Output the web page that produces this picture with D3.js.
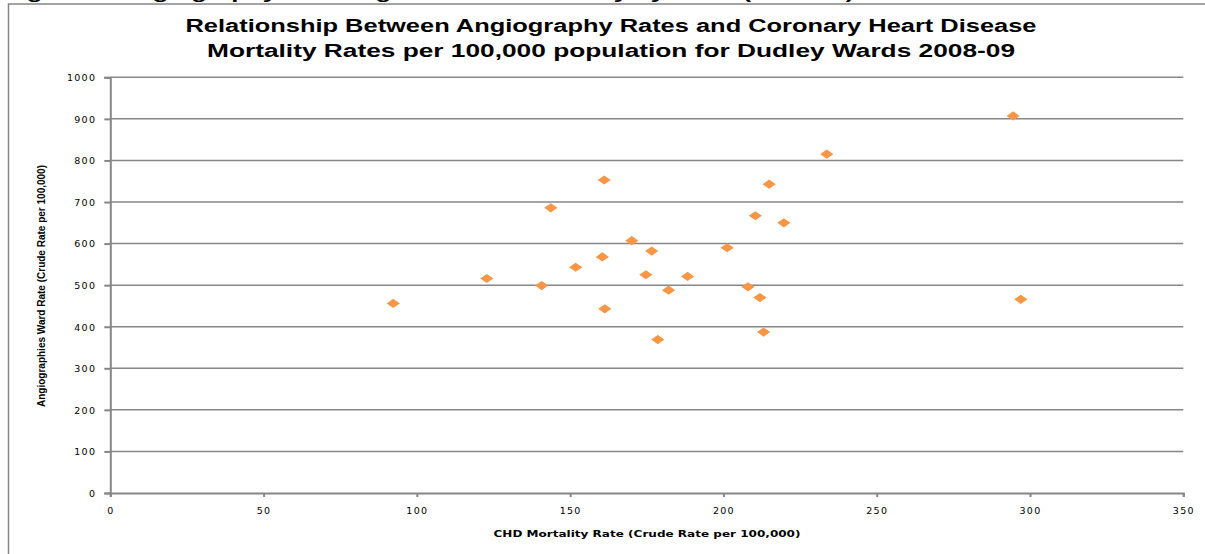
<!DOCTYPE html>
<html>
<head>
<meta charset="utf-8">
<script src="https://cdn.jsdelivr.net/npm/d3@7"></script>
<style>
  html, body { margin: 0; padding: 0; background: #fff; }
  svg { display: block; }
</style>
</head>
<body>
<svg id="chart" width="1205" height="554"></svg>
<script>
// ---- data ----
const chdMortality = [92.3, 122.8, 140.7, 143.7, 151.8, 160.5, 161.1, 161.3, 170.1, 176.6, 174.7, 182.1,
                      178.6, 188.3, 201.2, 208.0, 211.9, 213.1, 210.4, 214.9, 219.7, 233.7, 294.5, 297.0];
const angiographyRate = [456, 516, 499, 686, 543, 568, 753, 443, 607, 582, 525, 488,
                         369, 521, 590, 496, 470, 387, 667, 743, 650, 815, 907, 466];
const xTicks = [0, 50, 100, 150, 200, 250, 300, 350];
const yTicks = [0, 100, 200, 300, 400, 500, 600, 700, 800, 900, 1000];
const titleLines = ["Relationship Between Angiography Rates and Coronary Heart Disease",
                    "Mortality Rates per 100,000 population for Dudley Wards 2008-09"];
const xTitle = "CHD Mortality Rate (Crude Rate per 100,000)";
const yTitle = "Angiographies Ward Rate (Crude Rate per 100,000)";
const captionAbove = "Figure 4: Angiography Rates against CHD Mortality by Ward (2008-09)";

const svg = d3.select("#chart");
const grid = "#868686";

// caption cut off at top of page (as in the reference)
svg.append("text").attr("x", 4).attr("y", -1)
  .attr("font-family", "Liberation Sans, Arial, sans-serif").attr("font-weight", "bold")
  .attr("font-size", 17).attr("fill", "#000").text(captionAbove)
  .attr("textLength", 850).attr("lengthAdjust", "spacingAndGlyphs");

// chart frame
svg.append("rect").attr("x", 8.5).attr("y", 4).attr("width", 1210).attr("height", 560)
  .attr("fill", "#fff").attr("stroke", grid).attr("stroke-width", 1.5);

const x = d3.scaleLinear().domain([0, 350]).range([110.3, 1183.3]);
const y = d3.scaleLinear().domain([0, 1000]).range([493, 77.3]);

// gridlines
svg.append("g").selectAll("line").data(yTicks.filter(d => d > 0)).join("line")
  .attr("x1", x(0)).attr("x2", x(350))
  .attr("y1", d => y(d)).attr("y2", d => y(d))
  .attr("stroke", grid).attr("stroke-width", 1.5);

// y axis
const yAxis = svg.append("g").attr("transform", `translate(${x(0)},0)`)
  .call(d3.axisLeft(y).tickValues(yTicks).tickFormat(d3.format("d")).tickSize(6).tickPadding(8));
// x axis
const xAxis = svg.append("g").attr("transform", `translate(0,${y(0)})`)
  .call(d3.axisBottom(x).tickValues(xTicks).tickFormat(d3.format("d")).tickSize(4).tickPadding(10));

[yAxis, xAxis].forEach(g => {
  g.select(".domain").attr("stroke", grid).attr("stroke-width", 2);
  g.selectAll(".tick line").attr("stroke", grid).attr("stroke-width", 2);
  g.selectAll(".tick text").attr("font-family", "DejaVu Sans, Verdana, sans-serif")
    .attr("font-size", 9.5).attr("fill", "#000").attr("letter-spacing", 1.3);
});
yAxis.selectAll(".tick text").attr("dy", "0.35em");
xAxis.selectAll(".tick text").attr("dy", "0.71em");

// markers
const diamond = "M0,-4.6L6.6,0L0,4.6L-6.6,0Z";
svg.append("g").selectAll("path").data(chdMortality.map((d, i) => [d, angiographyRate[i]])).join("path")
  .attr("d", diamond)
  .attr("transform", d => `translate(${x(d[0])},${y(d[1])})`)
  .attr("fill", "#F79646");

// title
svg.append("g").selectAll("text").data(titleLines).join("text")
  .attr("x", 611).attr("y", (d, i) => 32 + i * 25)
  .attr("text-anchor", "middle")
  .attr("font-family", "Liberation Sans, Arial, sans-serif").attr("font-weight", "bold")
  .attr("font-size", 18).attr("fill", "#000")
  .attr("textLength", (d, i) => i === 0 ? 851 : 808).attr("lengthAdjust", "spacingAndGlyphs")
  .text(d => d);

// x title
svg.append("text").attr("x", 647).attr("y", 537).attr("text-anchor", "middle")
  .attr("font-family", "DejaVu Sans, Verdana, sans-serif").attr("font-weight", "bold")
  .attr("font-size", 9).attr("fill", "#000")
  .attr("textLength", 307).attr("lengthAdjust", "spacingAndGlyphs")
  .text(xTitle);

// y title
svg.append("text").attr("transform", "translate(45,286) rotate(-90)").attr("text-anchor", "middle")
  .attr("font-family", "Liberation Sans, Arial, sans-serif").attr("font-weight", "bold")
  .attr("font-size", 11).attr("fill", "#000")
  .attr("textLength", 242).attr("lengthAdjust", "spacingAndGlyphs")
  .text(yTitle);
</script>
</body>
</html>
